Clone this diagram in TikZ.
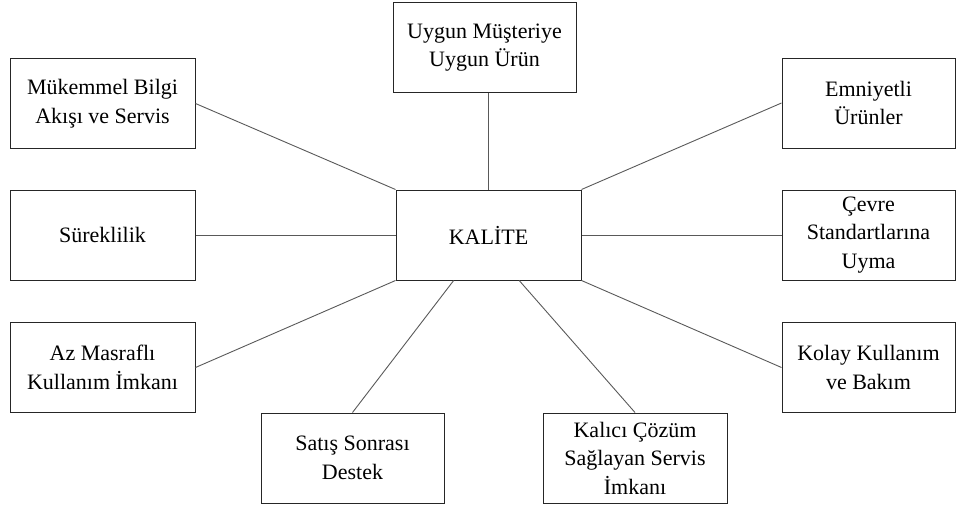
\documentclass[tikz,border=0pt]{standalone}
\usepackage{fontspec}
\setmainfont{Liberation Serif}
\usetikzlibrary{calc}

\begin{document}
\begin{tikzpicture}[
        x=1pt, y=-1pt,
        box/.style={rectangle, draw=black!85, line width=1pt, align=center, inner sep=2pt,
            minimum width=185pt, minimum height=90pt, font=\fontsize{22}{28.5}\selectfont},
        rbox/.style={box, minimum width=173pt},
        link/.style={draw=black!65, line width=0.9pt}
    ]
    \useasboundingbox (0,0) rectangle (957,506);

    % Center
    \node[box] (kalite) at (488.5,235) {KALİTE};

    % Top
    \node[box, minimum width=183pt] (ust) at (484.5,47.5) {Uygun Müşteriye\\Uygun Ürün};

    % Left column
    \node[box] (mukemmel) at (102.5,103.5) {Mükemmel Bilgi\\Akışı ve Servis};
    \node[box] (sureklilik) at (102.5,235) {Süreklilik};
    \node[box] (masraf) at (102.5,367.5) {Az Masraflı\\Kullanım İmkanı};

    % Right column
    \node[rbox] (emniyet) at (868.5,103) {Emniyetli\\Ürünler};
    \node[rbox] (cevre) at (868.5,235) {Çevre\\Standartlarına\\Uyma};
    \node[rbox] (kolay) at (868.5,367.5) {Kolay Kullanım\\ve Bakım};

    % Bottom
    \node[box, minimum width=183pt] (satis) at (352.5,458) {Satış Sonrası\\Destek};
    \node[box, minimum width=184pt] (kalici) at (635,458) {Kalıcı Çözüm\\Sağlayan Servis\\İmkanı};

    % Links to center
    \draw[link] (kalite.north) -- (kalite.north |- ust.south);
    \draw[link] (mukemmel.east) -- (kalite.north west);
    \draw[link] (emniyet.west) -- (kalite.north east);
    \draw[link] (sureklilik.east) -- (kalite.west);
    \draw[link] (cevre.west) -- (kalite.east);
    \draw[link] (masraf.east) -- (kalite.south west);
    \draw[link] (kolay.west) -- (kalite.south east);
    \draw[link] (satis.north) -- (kalite);
    \draw[link] (kalici.north) -- ($(kalite.south west)!0.665!(kalite.south east)$);

\end{tikzpicture}
\end{document}
